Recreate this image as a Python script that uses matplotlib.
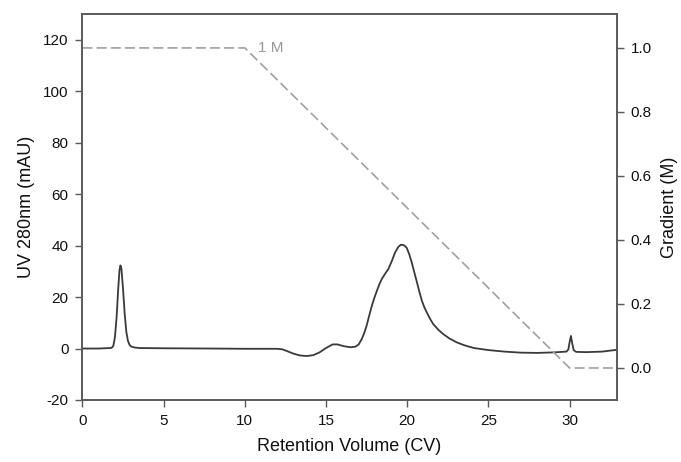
import matplotlib.pyplot as plt

plt.rcParams['font.family'] = ['Liberation Sans', 'DejaVu Sans']
plt.rcParams['axes.unicode_minus'] = False

# UV 280 nm trace
volume = [0.0, 1.0, 1.7, 1.8, 1.9, 2.0, 2.1, 2.2, 2.28, 2.34, 2.4, 2.5, 2.6, 2.7,
          2.8, 2.9, 3.0, 3.2, 3.5, 5.0, 8.0, 10.0, 12.0, 12.3, 12.6, 13.0, 13.4,
          13.8, 14.2, 14.6, 15.0, 15.4, 15.7, 16.1, 16.5, 16.8,
          17.0, 17.2, 17.35, 17.5, 17.65, 17.82, 17.98, 18.13, 18.28, 18.43,
          18.63, 18.84, 19.05, 19.25, 19.45, 19.6, 19.72, 19.85, 19.97, 20.12,
          20.28, 20.44, 20.6, 20.75, 20.9, 21.05, 21.2, 21.4, 21.6, 21.9, 22.2,
          22.6, 23.05, 23.5, 24.1, 25.0, 26.0, 27.0, 28.0, 29.0,
          29.8, 29.92, 30.0, 30.08, 30.16, 30.25, 30.4, 31.0, 32.0, 32.9]
uv = [0.0, 0.0, 0.2, 0.3, 1.0, 4.5, 12.0, 23.0, 30.5, 32.3, 31.0, 23.0, 13.5, 6.5,
      3.0, 1.4, 0.8, 0.4, 0.2, 0.1, 0.0, -0.1, -0.1, -0.3, -1.0, -2.0, -2.7,
      -2.9, -2.6, -1.5, 0.2, 1.6, 1.6, 0.9, 0.5, 0.7,
      1.5, 3.7, 6.0, 8.9, 12.6, 16.6, 19.8, 22.4, 24.9, 27.0,
      29.0, 30.9, 34.0, 37.3, 39.5, 40.3, 40.3, 39.9, 39.1, 36.7,
      33.4, 29.5, 25.7, 22.0, 18.6, 16.1, 14.1, 11.6, 9.5, 7.4, 5.7,
      3.9, 2.4, 1.3, 0.2, -0.6, -1.2, -1.6, -1.7, -1.5,
      -1.2, -0.4, 2.5, 4.9, 2.0, -0.6, -1.3, -1.4, -1.2, -0.5]

# salt gradient (M)
grad_volume = [0, 10, 30, 32.9]
grad_conc = [1.0, 1.0, 0.0, 0.0]

fig = plt.figure(figsize=(6.81, 4.62), dpi=100)
ax = fig.add_axes([0.1211, 0.1342, 0.7845, 0.8355])
ax2 = ax.twinx()

ax.plot(volume, uv, color='#3a3a3a', lw=1.3, zorder=3)
line, = ax2.plot(grad_volume, grad_conc, color='#a0a0a0', lw=1.2)
line.set_dashes((6, 2.5))
ax2.text(10.8, 1.0, '1 M', color='#999999', fontsize=11, va='center', ha='left')

ax.set_xlim(0, 32.9)
ax.set_ylim(-20, 130)
ax2.set_ylim(-0.1, 1.106)
ax.set_xticks(range(0, 31, 5))
ax.set_yticks(range(-20, 121, 20))
ax2.set_yticks([0.0, 0.2, 0.4, 0.6, 0.8, 1.0])
ax2.set_yticklabels(['0.0', '0.2', '0.4', '0.6', '0.8', '1.0'])

ax.set_xlabel('Retention Volume (CV)', fontsize=13, color='#111111', labelpad=7)
ax.set_ylabel('UV 280nm (mAU)', fontsize=13, color='#111111', labelpad=6)
ax2.set_ylabel('Gradient (M)', fontsize=13, color='#111111', labelpad=7)

for a in (ax, ax2):
    for s in a.spines.values():
        s.set_color('#5a5a5a')
        s.set_linewidth(1.2)
    a.tick_params(direction='out', length=5, width=1.0, color='#5a5a5a',
                  labelsize=11, labelcolor='#111111', pad=5)

fig.savefig('out.png', dpi=100)
